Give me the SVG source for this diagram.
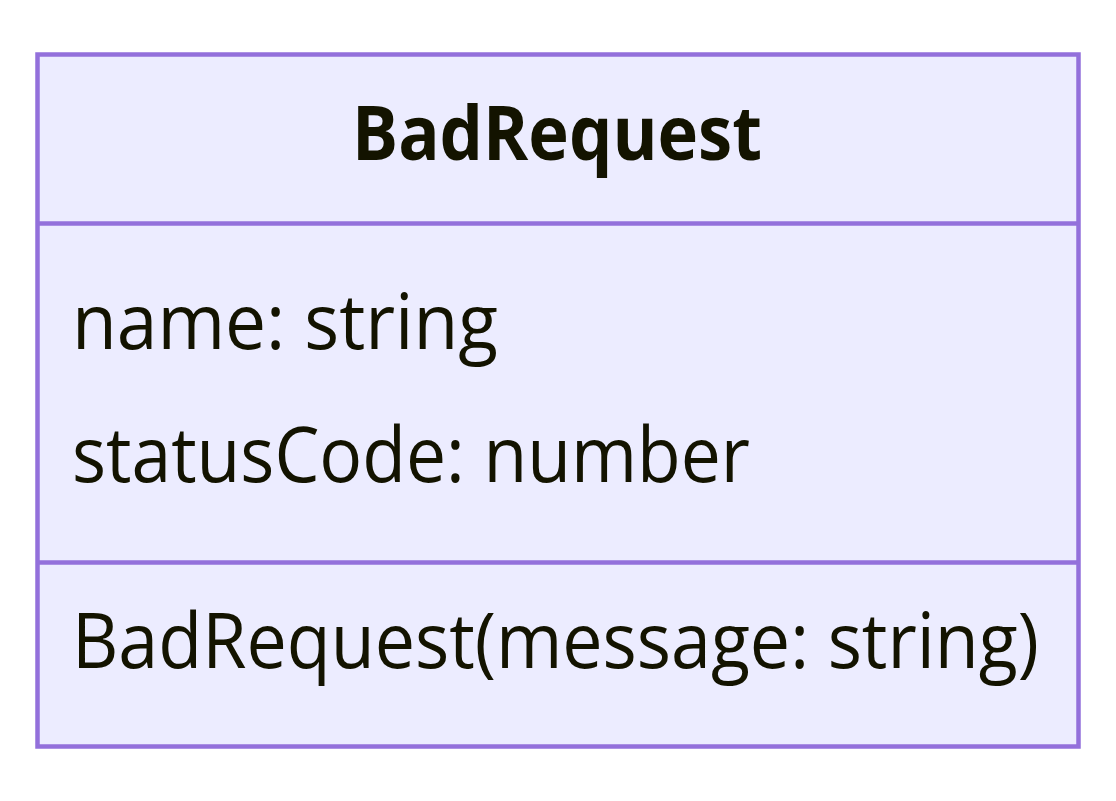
<svg xmlns="http://www.w3.org/2000/svg" width="1116" height="801" viewBox="0 0 1116 801">
<style>
.box{fill:#ECECFF;stroke:#9370DB;stroke-width:4.5}
.div{stroke:#9370DB;stroke-width:4.5;fill:none}
.t{font-family:"Open Sans","DejaVu Sans",sans-serif;font-size:76px;fill:#131300}
.b{font-weight:bold}
</style>
<rect width="1116" height="801" fill="#ffffff"/>
<g id="BadRequest">
<rect class="box" x="37.5" y="54.5" width="1041" height="692"/>
<line class="div" x1="37.5" y1="223.5" x2="1078.5" y2="223.5"/>
<line class="div" x1="37.5" y1="562.5" x2="1078.5" y2="562.5"/>
<text class="t b" x="352" y="160" textLength="410" lengthAdjust="spacingAndGlyphs">BadRequest</text>
<text class="t" x="72" y="349" textLength="426" lengthAdjust="spacingAndGlyphs">name: string</text>
<text class="t" x="72" y="482" textLength="678" lengthAdjust="spacingAndGlyphs">statusCode: number</text>
<text class="t" x="72" y="668" textLength="967" lengthAdjust="spacingAndGlyphs">BadRequest(message: string)</text>
</g>
<g id="connectors"></g>
</svg>
